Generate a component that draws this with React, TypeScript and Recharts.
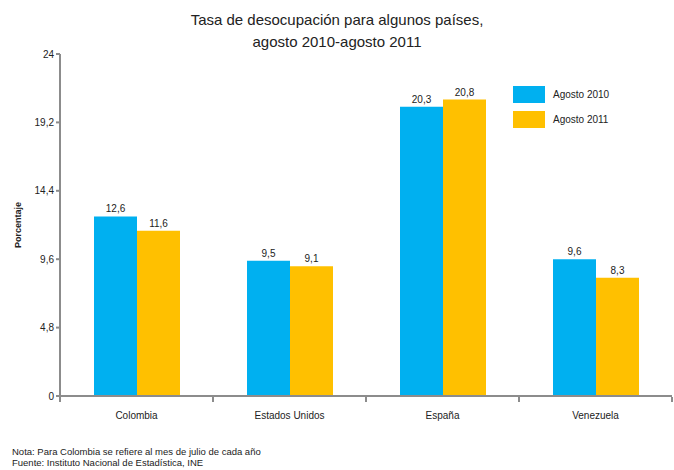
import React from 'react';
import { BarChart, Bar, XAxis, YAxis, Legend, LabelList, Label } from 'recharts';

const countries = ['Colombia', 'Estados Unidos', 'España', 'Venezuela'];
const agosto2010 = [12.6, 9.5, 20.3, 9.6];
const agosto2011 = [11.6, 9.1, 20.8, 8.3];
const yTicks = [0, 4.8, 9.6, 14.4, 19.2, 24];
const edgeTicks = [0, 1, 2, 3, 4];

const data = countries.map((name, i) => ({
  name,
  pos: i + 0.5,
  a2010: agosto2010[i],
  a2011: agosto2011[i],
}));

const font = '"Liberation Sans", Arial, sans-serif';
const comma = (v: number) => String(v).replace('.', ',');

const LegendBox = (props: any) => {
  const items = props.payload || [];
  return (
    <div style={{ fontFamily: font, fontSize: 10, color: '#222' }}>
      {items.map((it: any) => (
        <div key={it.value} style={{ display: 'flex', alignItems: 'center', height: 17, marginBottom: 8 }}>
          <span style={{ width: 32, height: 17, background: it.color, display: 'inline-block', marginRight: 8 }} />
          <span>{it.value}</span>
        </div>
      ))}
    </div>
  );
};

const NoTick = () => <g />;

const App: React.FC = () => {
  return (
    <div style={{ position: 'absolute', left: 0, top: 0, width: 674, height: 470, background: '#fff', fontFamily: font }}>
      <div style={{ position: 'absolute', top: 9, width: 674, textAlign: 'center', fontSize: 15, lineHeight: '22px', color: '#222' }}>
        Tasa de desocupación para algunos países,
        <br />
        agosto 2010-agosto 2011
      </div>
      <BarChart
        width={674}
        height={470}
        data={data}
        margin={{ top: 54, right: 2, left: 0, bottom: 44 }}
        barCategoryGap="22%"
        barGap={0}
      >
        <XAxis
          xAxisId="edges"
          dataKey="pos"
          type="number"
          domain={[0, 4]}
          ticks={edgeTicks}
          allowDataOverflow
          axisLine={false}
          tick={<NoTick />}
          tickSize={5}
          tickLine={{ stroke: '#8c8c8c', strokeWidth: 2 }}
          height={29}
        />
        <XAxis
          dataKey="name"
          tickLine={false}
          axisLine={{ stroke: '#8c8c8c', strokeWidth: 2 }}
          tick={{ fill: '#222', fontSize: 10, fontFamily: font }}
          tickMargin={10}
          height={1}
        />
        <YAxis
          domain={[0, 24]}
          ticks={yTicks}
          tickFormatter={comma}
          axisLine={{ stroke: '#8c8c8c', strokeWidth: 2 }}
          tickLine={{ stroke: '#8c8c8c', strokeWidth: 2 }}
          tickSize={4}
          tick={{ fill: '#222', fontSize: 10, fontFamily: font }}
          width={60}
        >
          <Label
            value="Porcentaje"
            angle={-90}
            position="insideLeft"
            offset={18}
            style={{ fill: '#222', fontSize: 9, fontWeight: 'bold', fontFamily: font, textAnchor: 'middle' }}
          />
        </YAxis>
        <Legend
          layout="vertical"
          verticalAlign="middle"
          align="center"
          content={<LegendBox />}
          wrapperStyle={{ top: 86, left: 513, width: 150 }}
        />
        <Bar dataKey="a2010" name="Agosto 2010" fill="#00b0f0" barSize={43} isAnimationActive={false}>
          <LabelList dataKey="a2010" position="top" offset={4} formatter={(v: any) => comma(v)} style={{ fill: '#222', fontSize: 10, fontFamily: font }} />
        </Bar>
        <Bar dataKey="a2011" name="Agosto 2011" fill="#ffc000" barSize={43} isAnimationActive={false}>
          <LabelList dataKey="a2011" position="top" offset={4} formatter={(v: any) => comma(v)} style={{ fill: '#222', fontSize: 10, fontFamily: font }} />
        </Bar>
      </BarChart>
      <div style={{ position: 'absolute', left: 12, top: 446, fontSize: 9.5, lineHeight: '11px', color: '#222' }}>
        Nota: Para Colombia se refiere al mes de julio de cada año
        <br />
        Fuente: Instituto Nacional de Estadística, INE
      </div>
    </div>
  );
};

export default App;
